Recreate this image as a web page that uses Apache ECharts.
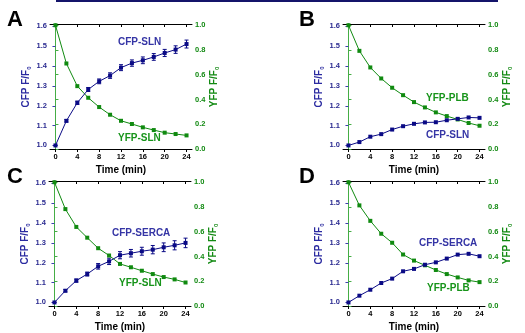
<!DOCTYPE html>
<html>
<head>
<meta charset="utf-8">
<script src="https://cdn.jsdelivr.net/npm/echarts@6/dist/echarts.min.js"></script>
<style>
  html, body {margin: 0; padding: 0; background: #fff;}
  #chart {width: 525px; height: 333px;}
</style>
</head>
<body>
<div id="chart"></div>
<script>
// time points (min)
const times = [0, 2, 4, 6, 8, 10, 12, 14, 16, 18, 20, 22, 24];
const xTicks = [0, 4, 8, 12, 16, 20, 24];
const cfpTicks = [1.0, 1.1, 1.2, 1.3, 1.4, 1.5, 1.6];
const yfpTicks = [0, 0.2, 0.4, 0.6, 0.8, 1.0];

// panel A: CFP-SLN / YFP-SLN
const cfpA = [1.0, 1.124, 1.215, 1.282, 1.323, 1.352, 1.392, 1.415, 1.429, 1.446, 1.466, 1.483, 1.511];
const errA = [0, 0.006, 0.008, 0.01, 0.012, 0.014, 0.015, 0.016, 0.017, 0.017, 0.018, 0.019, 0.02];
const yfpA = [1.0, 0.691, 0.508, 0.414, 0.339, 0.277, 0.228, 0.202, 0.175, 0.153, 0.132, 0.121, 0.110];
// panel B: CFP-SLN / YFP-PLB
const cfpB = [1.0, 1.017, 1.044, 1.057, 1.080, 1.097, 1.109, 1.116, 1.117, 1.127, 1.134, 1.141, 1.139];
const yfpB = [1.0, 0.793, 0.659, 0.570, 0.495, 0.435, 0.379, 0.336, 0.296, 0.266, 0.239, 0.210, 0.188];
// panel C: CFP-SERCA / YFP-SLN
const cfpC = [1.0, 1.059, 1.110, 1.143, 1.182, 1.207, 1.238, 1.248, 1.258, 1.266, 1.278, 1.288, 1.300];
const errC = [0, 0.006, 0.008, 0.01, 0.014, 0.016, 0.018, 0.019, 0.02, 0.021, 0.022, 0.023, 0.024];
const yfpC = [1.0, 0.783, 0.639, 0.552, 0.467, 0.408, 0.340, 0.313, 0.285, 0.258, 0.234, 0.215, 0.190];
// panel D: CFP-SERCA / YFP-PLB
const cfpD = [1.0, 1.034, 1.064, 1.098, 1.120, 1.157, 1.169, 1.190, 1.202, 1.221, 1.241, 1.245, 1.233];
const yfpD = [1.0, 0.813, 0.688, 0.584, 0.511, 0.416, 0.367, 0.329, 0.291, 0.258, 0.231, 0.207, 0.193];

const BLUE = '#0a0a85';
const GREEN = '#108a10';
const FONT = 'Liberation Sans, Arial, sans-serif';

const panels = [
  {letter: 'A', left: 50, top: 24, cfp: cfpA, err: errA, yfp: yfpA,
   cfpLabel: 'CFP-SLN', cfpPos: [118, 43], yfpLabel: 'YFP-SLN', yfpPos: [118, 139]},
  {letter: 'B', left: 343, top: 24, cfp: cfpB, err: null, yfp: yfpB,
   cfpLabel: 'CFP-SLN', cfpPos: [426, 136], yfpLabel: 'YFP-PLB', yfpPos: [426, 99]},
  {letter: 'C', left: 49, top: 181, cfp: cfpC, err: errC, yfp: yfpC,
   cfpLabel: 'CFP-SERCA', cfpPos: [112, 234], yfpLabel: 'YFP-SLN', yfpPos: [119, 284]},
  {letter: 'D', left: 343, top: 181, cfp: cfpD, err: null, yfp: yfpD,
   cfpLabel: 'CFP-SERCA', cfpPos: [419, 244], yfpLabel: 'YFP-PLB', yfpPos: [427, 289]}
];

const grid = [], xAxis = [], yAxis = [], series = [];
const graphic = [
  {type: 'rect', shape: {x: 56, y: 0, width: 442, height: 2}, style: {fill: '#14146a'}}
];

const nameStyle = (color) => ({
  color: color, fontWeight: 'bold', fontSize: 10, fontFamily: FONT,
  rich: {s: {fontSize: 6, fontWeight: 'bold', color: color, fontFamily: FONT, padding: [6, 0, 0, 0]}}
});

panels.forEach((p, i) => {
  grid.push({left: p.left, top: p.top, width: 142, height: 126});
  // bottom time axis
  xAxis.push({
    type: 'value', gridIndex: i, position: 'bottom', min: -1, max: 25,
    name: 'Time (min)', nameLocation: 'middle', nameGap: 15,
    nameTextStyle: {color: '#000', fontWeight: 'bold', fontSize: 10, fontFamily: FONT},
    axisLine: {lineStyle: {color: '#000', width: 1}},
    axisTick: {show: true, length: 3, customValues: xTicks, lineStyle: {color: '#000'}},
    axisLabel: {customValues: xTicks, color: '#000', fontWeight: 'bold', fontSize: 7.5, fontFamily: FONT, margin: 3},
    splitLine: {show: false}
  });
  // top frame
  xAxis.push({
    type: 'value', gridIndex: i, position: 'top', min: -1, max: 25,
    axisLine: {lineStyle: {color: '#000', width: 1}},
    axisTick: {show: true, inside: true, length: 3, customValues: xTicks, lineStyle: {color: '#000'}},
    axisLabel: {show: false},
    splitLine: {show: false}
  });
  // left CFP axis
  yAxis.push({
    type: 'value', gridIndex: i, position: 'left', min: 0.977, max: 1.612,
    name: 'CFP F/F{s|0}', nameLocation: 'middle', nameRotate: 90, nameGap: 16,
    nameTextStyle: nameStyle('#2a2aa0'),
    axisLine: {show: true, lineStyle: {color: '#4040b0', width: 1}},
    axisTick: {show: true, length: 3, customValues: cfpTicks, lineStyle: {color: '#4040b0'}},
    axisLabel: {customValues: cfpTicks, formatter: v => v.toFixed(1), color: '#2a2a90',
      fontWeight: 'bold', fontSize: 7.5, fontFamily: FONT, margin: 3},
    splitLine: {show: false}
  });
  // right YFP axis
  yAxis.push({
    type: 'value', gridIndex: i, position: 'right', min: -0.008, max: 1.01,
    name: 'YFP F/F{s|0}', nameLocation: 'middle', nameRotate: 90, nameGap: 16,
    nameTextStyle: nameStyle('#138a13'),
    axisLine: {show: true, lineStyle: {color: '#45ad45', width: 1}},
    axisTick: {show: true, length: 3, customValues: yfpTicks, lineStyle: {color: '#45ad45'}},
    axisLabel: {customValues: yfpTicks, formatter: v => v.toFixed(1), color: '#138a13',
      fontWeight: 'bold', fontSize: 7.5, fontFamily: FONT, margin: 3},
    splitLine: {show: false}
  });

  series.push({
    type: 'line', xAxisIndex: 2 * i, yAxisIndex: 2 * i + 1,
    data: times.map((t, k) => [t, p.yfp[k]]),
    symbol: 'rect', symbolSize: 4, showSymbol: true,
    lineStyle: {color: GREEN, width: 1}, itemStyle: {color: GREEN},
    animation: false
  });
  series.push({
    type: 'line', xAxisIndex: 2 * i, yAxisIndex: 2 * i,
    data: times.map((t, k) => [t, p.cfp[k]]),
    symbol: 'rect', symbolSize: 4, showSymbol: true,
    lineStyle: {color: BLUE, width: 1}, itemStyle: {color: BLUE},
    animation: false
  });
  if (p.err) {
    series.push({
      type: 'custom', xAxisIndex: 2 * i, yAxisIndex: 2 * i,
      data: times.map((t, k) => [t, p.cfp[k] - p.err[k], p.cfp[k] + p.err[k]]),
      encode: {x: 0, y: [1, 2]},
      renderItem(params, api) {
        const x = api.value(0);
        const lo = api.coord([x, api.value(1)]);
        const hi = api.coord([x, api.value(2)]);
        const w = 2;
        const st = {stroke: BLUE, lineWidth: 1};
        return {type: 'group', children: [
          {type: 'line', shape: {x1: lo[0], y1: lo[1], x2: hi[0], y2: hi[1]}, style: st},
          {type: 'line', shape: {x1: lo[0] - w, y1: lo[1], x2: lo[0] + w, y2: lo[1]}, style: st},
          {type: 'line', shape: {x1: hi[0] - w, y1: hi[1], x2: hi[0] + w, y2: hi[1]}, style: st}
        ]};
      },
      animation: false
    });
  }

  graphic.push({type: 'text', left: p.letter === 'A' || p.letter === 'C' ? 7 : 299,
    top: p.top - 15, style: {text: p.letter, fontSize: 22, fontWeight: 'bold', fontFamily: FONT, fill: '#000'}});
  graphic.push({type: 'text', left: p.cfpPos[0], top: p.cfpPos[1] - 6,
    style: {text: p.cfpLabel, fontSize: 10, fontWeight: 'bold', fontFamily: FONT, fill: '#3535a5'}});
  graphic.push({type: 'text', left: p.yfpPos[0], top: p.yfpPos[1] - 6,
    style: {text: p.yfpLabel, fontSize: 10, fontWeight: 'bold', fontFamily: FONT, fill: '#17941a'}});
});

const myChart = echarts.init(document.getElementById('chart'));
myChart.setOption({
  animation: false,
  grid: grid,
  xAxis: xAxis,
  yAxis: yAxis,
  series: series,
  graphic: graphic
});
</script>
</body>
</html>
